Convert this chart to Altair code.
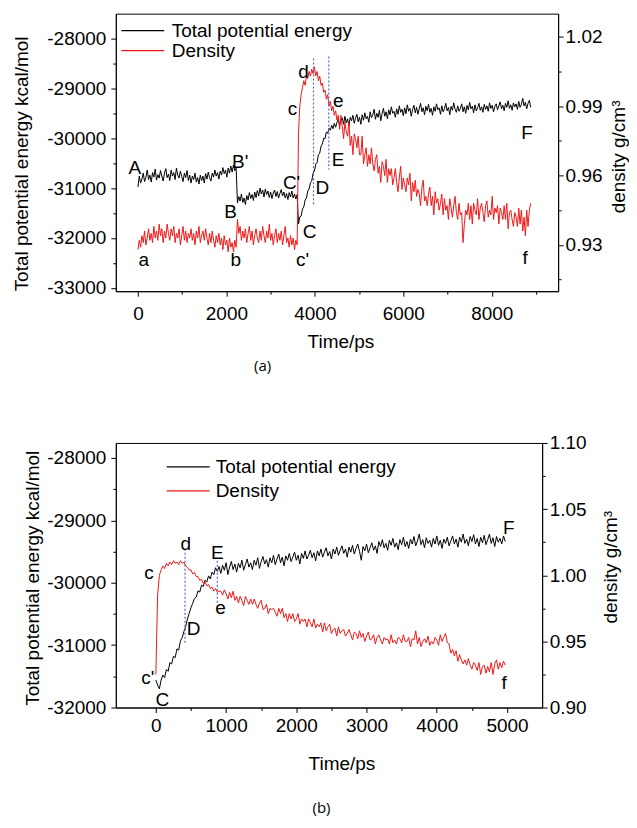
import altair as alt
import pandas as pd

FONT = "Liberation Sans"
BLACK = "#000000"
RED = "#f01818"
BLUE = "#5566dd"

# ---------------- Panel (a) data (sampled every 30 ps from 0 ps) ----------------
a_step = 30
a_energy = [
    # 0 .. 2220 ps  (A -> B')
    -30980, -30760, -30900, -30820, -30700, -30870, -30790, -30640, -30830, -30740,
    -30880, -30690, -30780, -30620, -30840, -30730, -30800, -30650, -30760, -30860,
    -30700, -30610, -30790, -30720, -30850, -30640, -30760, -30690, -30830, -30600,
    -30740, -30800, -30660, -30770, -30870, -30700, -30790, -30650, -30850, -30740,
    -30900, -30760, -30830, -30700, -30880, -30790, -30920, -30740, -30850, -30760,
    -30900, -30710, -30820, -30680, -30790, -30860, -30700, -30780, -30640, -30760,
    -30690, -30820, -30660, -30740, -30590, -30710, -30640, -30780, -30600, -30700,
    -30560, -30680, -30540, -30650, -30600,
    # 2250 .. 3600 ps  (B -> C')
    -31300, -31170, -31260, -31120, -31290, -31200, -31330, -31150, -31240, -31090,
    -31210, -31130, -31250, -31080, -31190, -31050, -31160, -31000, -31120, -31040,
    -31180, -31020, -31130, -31060, -31190, -31080, -31210, -31100, -31040, -31170,
    -31070, -31200, -31110, -31030, -31160, -31080, -31200, -31110, -31230, -31090,
    -31180, -31060, -31200, -31120, -31220, -31130,
    # 3630 .. 4500 ps  (C -> D -> E)
    -31720, -31580, -31560, -31420, -31380, -31240, -31200, -31060, -31020, -30890,
    -30860, -30700, -30660, -30520, -30490, -30330, -30300, -30160, -30120, -30000,
    -30010, -29880, -29900, -29800, -29840, -29740, -29810, -29700, -29780, -29680,
    # 4530 .. 8880 ps  (E -> F)
    -29620, -29740, -29650, -29590, -29720, -29560, -29690, -29610, -29760, -29580,
    -29650, -29540, -29700, -29600, -29520, -29670, -29580, -29720, -29530, -29640,
    -29490, -29610, -29560, -29680, -29470, -29590, -29530, -29420, -29620, -29500,
    -29580, -29440, -29650, -29510, -29400, -29560, -29470, -29610, -29430, -29530,
    -29370, -29500, -29460, -29580, -29410, -29520, -29350, -29480, -29420, -29550,
    -29390, -29510, -29330, -29460, -29400, -29560, -29420, -29340, -29490, -29380,
    -29520, -29410, -29300, -29470, -29390, -29530, -29360, -29450, -29320, -29480,
    -29400, -29540, -29370, -29460, -29310, -29430, -29390, -29520, -29350, -29470,
    -29410, -29300, -29450, -29380, -29530, -29360, -29440, -29290, -29420, -29480,
    -29350, -29460, -29400, -29310, -29470, -29370, -29500, -29340, -29430, -29280,
    -29410, -29360, -29490, -29330, -29450, -29390, -29300, -29440, -29370, -29480,
    -29320, -29420, -29350, -29460, -29290, -29400, -29340, -29470, -29360, -29310,
    -29430, -29350, -29270, -29410, -29340, -29450, -29300, -29380, -29250, -29400,
    -29330, -29440, -29290, -29370, -29310, -29420, -29260, -29380, -29320, -29200,
    -29350, -29280, -29410, -29300, -29240, -29380,
]
a_density = [
    # 0 .. 2220 ps  (a -> b)
    0.928, 0.932, 0.929, 0.934, 0.931, 0.936, 0.930, 0.933, 0.937, 0.932,
    0.935, 0.931, 0.938, 0.933, 0.936, 0.932, 0.939, 0.934, 0.937, 0.931,
    0.936, 0.933, 0.939, 0.935, 0.932, 0.937, 0.934, 0.938, 0.931, 0.935,
    0.933, 0.937, 0.930, 0.934, 0.938, 0.932, 0.936, 0.931, 0.935, 0.933,
    0.937, 0.932, 0.935, 0.930, 0.936, 0.933, 0.938, 0.931, 0.934, 0.936,
    0.932, 0.937, 0.933, 0.930, 0.935, 0.931, 0.936, 0.932, 0.929, 0.934,
    0.931, 0.935, 0.930, 0.933, 0.928, 0.934, 0.930, 0.932, 0.927, 0.933,
    0.929, 0.931, 0.927, 0.932, 0.929,
    # 2250 .. 3600 ps  (b -> c')
    0.941, 0.935, 0.938, 0.932, 0.936, 0.933, 0.937, 0.931, 0.935, 0.938,
    0.932, 0.936, 0.930, 0.934, 0.937, 0.933, 0.931, 0.936, 0.932, 0.938,
    0.934, 0.931, 0.936, 0.933, 0.939, 0.932, 0.935, 0.930, 0.934, 0.937,
    0.931, 0.935, 0.932, 0.936, 0.930, 0.934, 0.938, 0.931, 0.933, 0.929,
    0.934, 0.930, 0.933, 0.928, 0.932, 0.930,
    # 3630 .. 4500 ps  (c -> d -> e)
    0.978, 0.990, 0.995, 0.998, 1.001, 0.999, 1.003, 1.002, 1.005, 1.003,
    1.006, 1.004, 1.007, 1.003, 1.005, 1.001, 1.003, 0.999, 1.000, 0.996,
    0.997, 0.993, 0.995, 0.990, 0.992, 0.988, 0.990, 0.986, 0.988, 0.984,
    # 4530 .. 8880 ps  (e -> f)
    0.986, 0.980, 0.986, 0.981, 0.976, 0.983, 0.979, 0.977, 0.983, 0.973,
    0.977, 0.969, 0.978, 0.976, 0.972, 0.977, 0.969, 0.969, 0.977, 0.965,
    0.969, 0.972, 0.964, 0.969, 0.965, 0.972, 0.965, 0.962, 0.967, 0.969,
    0.961, 0.964, 0.957, 0.966, 0.964, 0.960, 0.967, 0.957, 0.963, 0.960,
    0.963, 0.956, 0.959, 0.963, 0.957, 0.953, 0.959, 0.964, 0.954, 0.959,
    0.956, 0.953, 0.959, 0.956, 0.961, 0.949, 0.957, 0.953, 0.958, 0.951,
    0.954, 0.952, 0.947, 0.955, 0.958, 0.949, 0.951, 0.947, 0.952, 0.955,
    0.947, 0.951, 0.943, 0.953, 0.948, 0.950, 0.945, 0.948, 0.952, 0.943,
    0.950, 0.945, 0.947, 0.941, 0.950, 0.946, 0.942, 0.947, 0.951, 0.944,
    0.941, 0.948, 0.943, 0.944, 0.931, 0.939, 0.945, 0.943, 0.948, 0.941,
    0.947, 0.939, 0.948, 0.945, 0.943, 0.950, 0.941, 0.946, 0.948, 0.944,
    0.940, 0.947, 0.949, 0.942, 0.945, 0.943, 0.951, 0.941, 0.946, 0.944,
    0.947, 0.939, 0.946, 0.944, 0.941, 0.947, 0.941, 0.948, 0.937, 0.944,
    0.945, 0.941, 0.938, 0.944, 0.942, 0.938, 0.946, 0.939, 0.945, 0.936,
    0.942, 0.934, 0.945, 0.938, 0.945, 0.948,
]
a_label_text = ["A", "B'", "B", "C'", "C", "D", "E", "F", "a", "b", "c'", "c", "d", "e", "f"]
a_label_t = [-71, 2311, 2096, 3473, 3880, 4172, 4523, 8800, 132, 2209, 3720, 3496, 3743, 4532, 8754]
a_label_e = [-30726, -30606, -31608, -31027, -32009, -31127, -30566, -30024,
             -32570, -32570, -32570, -29526, -28782, -29364, -32530]
a_mark_t = [3970, 4315]
a_mark_top = [-28401, -28361]
a_mark_bottom = [-31327, -30626]

# ---------------- Panel (b) data (sampled every 25 ps from 0 ps) ----------------
b_step = 25
b_energy = [
    # 0 .. 900 ps  (C -> D -> E)
    -31560, -31640, -31700, -31560, -31480, -31520, -31390, -31420, -31280, -31300,
    -31180, -31200, -31060, -31080, -30930, -30880, -30780, -30700, -30580, -30490,
    -30400, -30330, -30250, -30230, -30130, -30150, -30040, -30060, -29960, -29990,
    -29890, -29940, -29830, -29870, -29760, -29820, -29740,
    # 925 .. 4975 ps  (E -> F)
    -29850, -29720, -29800, -29680, -29870, -29750, -29660, -29790, -29700, -29830,
    -29690, -29760, -29640, -29800, -29710, -29620, -29750, -29680, -29790, -29640,
    -29720, -29600, -29770, -29660, -29580, -29700, -29630, -29750, -29600, -29680,
    -29560, -29710, -29620, -29540, -29680, -29590, -29730, -29570, -29640, -29530,
    -29660, -29590, -29510, -29640, -29560, -29700, -29530, -29610, -29490, -29620,
    -29560, -29480, -29600, -29520, -29650, -29490, -29570, -29460, -29590, -29510,
    -29440, -29570, -29500, -29620, -29460, -29540, -29430, -29560, -29480, -29410,
    -29530, -29460, -29590, -29430, -29510, -29400, -29540, -29450, -29380, -29500,
    -29640, -29420, -29490, -29380, -29520, -29440, -29360, -29480, -29410, -29530,
    -29340, -29420, -29310, -29440, -29370, -29480, -29320, -29400, -29290, -29430,
    -29360, -29470, -29310, -29390, -29270, -29420, -29340, -29450, -29300, -29380,
    -29260, -29410, -29330, -29220, -29390, -29310, -29440, -29280, -29370, -29320,
    -29430, -29290, -29380, -29250, -29400, -29320, -29450, -29300, -29370, -29270,
    -29410, -29330, -29250, -29380, -29300, -29430, -29270, -29350, -29220, -29370,
    -29300, -29410, -29260, -29340, -29230, -29380, -29290, -29420, -29270, -29360,
    -29240, -29390, -29310, -29220, -29370, -29280, -29420, -29260, -29350, -29290,
    -29380, -29250, -29340,
]
b_density = [
    # 0 .. 900 ps  (c' -> c -> d -> e)
    0.925, 0.985, 1.000, 1.004, 1.007, 1.005, 1.009, 1.007, 1.010, 1.008,
    1.011, 1.009, 1.010, 1.008, 1.011, 1.009, 1.010, 1.007, 1.006, 1.004,
    1.004, 1.001, 1.002, 0.999, 0.999, 0.996, 0.997, 0.994, 0.995, 0.992,
    0.993, 0.990, 0.991, 0.988, 0.990, 0.987, 0.988,
    # 925 .. 4975 ps  (e -> f)
    0.988, 0.985, 0.989, 0.986, 0.982, 0.987, 0.983, 0.988, 0.981, 0.984,
    0.979, 0.984, 0.981, 0.977, 0.984, 0.981, 0.978, 0.982, 0.978, 0.982,
    0.978, 0.975, 0.979, 0.981, 0.974, 0.975, 0.978, 0.971, 0.975, 0.974,
    0.975, 0.972, 0.969, 0.975, 0.971, 0.975, 0.968, 0.971, 0.965, 0.971,
    0.967, 0.971, 0.965, 0.967, 0.971, 0.963, 0.967, 0.965, 0.967, 0.961,
    0.967, 0.964, 0.961, 0.967, 0.960, 0.963, 0.961, 0.964, 0.957, 0.964,
    0.958, 0.961, 0.963, 0.956, 0.959, 0.960, 0.954, 0.961, 0.956, 0.958,
    0.959, 0.954, 0.956, 0.959, 0.955, 0.951, 0.957, 0.956, 0.952, 0.958,
    0.953, 0.956, 0.950, 0.954, 0.957, 0.951, 0.952, 0.955, 0.948, 0.953,
    0.955, 0.951, 0.948, 0.953, 0.951, 0.952, 0.948, 0.955, 0.949, 0.951,
    0.948, 0.953, 0.952, 0.949, 0.955, 0.950, 0.950, 0.953, 0.946, 0.952,
    0.951, 0.958, 0.948, 0.953, 0.946, 0.950, 0.952, 0.949, 0.954, 0.947,
    0.950, 0.948, 0.953, 0.951, 0.947, 0.955, 0.950, 0.953, 0.956, 0.949,
    0.948, 0.941, 0.944, 0.939, 0.943, 0.935, 0.940, 0.936, 0.933, 0.936,
    0.932, 0.937, 0.932, 0.929, 0.934, 0.932, 0.928, 0.934, 0.925, 0.931,
    0.932, 0.926, 0.931, 0.927, 0.934, 0.925, 0.933, 0.936, 0.929, 0.934,
    0.930, 0.935, 0.932,
]
b_label_text = ["c", "d", "E", "e", "D", "c'", "C", "F", "f"]
b_label_t = [-97, 425, 875, 922, 539, -115, 94, 5026, 4960]
b_label_e = [-29936, -29472, -29616, -30496, -30832, -31616, -31968, -29216, -31696]
b_mark_t = [415, 875]
b_mark_top = [-29456, -29648]
b_mark_bottom = [-30960, -30336]

SERIES = ["Total potential energy", "Density"]
SERIES_COLORS = [BLACK, RED]
X_TITLE = "Time/ps"
E_TITLE = "Total potential energy kcal/mol"
D_TITLE = "density g/cm\u00b3"


def panel(step, energy, density, lab_text, lab_t, lab_e, mk_t, mk_top, mk_bot,
          width, height, xdom, xticks, xlabel_step, edom, eticks, elabel_step,
          ddom, dticks, dlabel_mod, xlabpad, xtitle_x, xtitle_y,
          etitle_x, etitle_y, elabpad, dtitle_x, dtitle_y, dlabpad,
          leg_x, leg_y, leg_row, leg_off, caption, cap_x, cap_y, anchor=False):
    dfe = pd.DataFrame({"t": [i * step for i in range(len(energy))], "value": energy, "series": SERIES[0]})
    dfd = pd.DataFrame({"t": [i * step for i in range(len(density))], "value": density, "series": SERIES[1]})
    labels = pd.DataFrame({"t": lab_t, "E": lab_e, "txt": lab_text})
    marks = pd.DataFrame({"t": mk_t, "e1": mk_top, "e2": mk_bot})

    x = alt.X(
        "t:Q",
        title=X_TITLE,
        scale=alt.Scale(domain=xdom, nice=False, zero=False),
        axis=alt.Axis(
            values=xticks,
            labelExpr=f"datum.value % {xlabel_step} === 0 ? '' + datum.value : ''",
            tickSize={"condition": {"test": f"datum.value % {xlabel_step} === 0", "value": 5}, "value": 3},
            labelPadding=xlabpad, labelFlush=False, labelOverlap=False,
            titleX=xtitle_x, titleY=xtitle_y, titleBaseline="middle",
        ),
    )
    escale = alt.Scale(domain=edom, nice=False, zero=False)
    dscale = alt.Scale(domain=ddom, nice=False, zero=False)
    cscale = alt.Scale(domain=SERIES, range=SERIES_COLORS)
    legend = alt.Legend(
        orient="none", legendX=leg_x, legendY=leg_y, direction="vertical", title=None,
        symbolType="M-4.3,0H4.3", symbolSize=100, symbolStrokeWidth=1.3,
        labelFont=FONT, labelFontSize=19, labelColor=BLACK, labelOffset=leg_off,
        labelLimit=400, rowPadding=leg_row, padding=0,
    )
    color = alt.Color("series:N", scale=cscale, legend=legend)

    energy_line = alt.Chart(dfe).mark_line(strokeWidth=1).encode(
        x=x,
        y=alt.Y("value:Q", title=E_TITLE, scale=escale, axis=alt.Axis(
            values=eticks,
            labelExpr=f"datum.value % {elabel_step} === 0 ? '' + datum.value : ''",
            tickSize={"condition": {"test": f"datum.value % {elabel_step} === 0", "value": 5}, "value": 3},
            labelPadding=elabpad, labelFlush=False, labelOverlap=False,
            titleX=etitle_x, titleY=etitle_y, titleBaseline="middle",
        )),
        color=color,
    )
    density_line = alt.Chart(dfd).mark_line(strokeWidth=1).encode(
        x=x,
        y=alt.Y("value:Q", title=D_TITLE, scale=dscale, axis=alt.Axis(
            orient="right", values=dticks,
            labelExpr=f"round(datum.value * 1000) % {dlabel_mod} === 0 ? format(datum.value, '.2f') : ''",
            tickSize={"condition": {"test": f"round(datum.value * 1000) % {dlabel_mod} === 0", "value": 5}, "value": 3},
            labelPadding=dlabpad, labelFlush=False, labelOverlap=False,
            titleAngle=270, titleX=dtitle_x, titleY=dtitle_y, titleBaseline="middle",
        )),
        color=color,
    )
    guide_lines = alt.Chart(marks).mark_rule(color=BLUE, strokeWidth=1.2, strokeDash=[2, 2]).encode(
        x=x,
        y=alt.Y("e1:Q", scale=escale, axis=None),
        y2="e2:Q",
    )
    point_labels = alt.Chart(labels).mark_text(
        font=FONT, fontSize=19, color=BLACK, align="center", baseline="alphabetic"
    ).encode(
        x=x,
        y=alt.Y("E:Q", scale=escale, axis=None),
        text="txt:N",
    )
    cap = alt.Chart(pd.DataFrame({"cap": [caption]})).mark_text(
        font="Open Sans", fontSize=15, color=BLACK, align="center", baseline="middle"
    ).encode(text="cap:N", x=alt.value(cap_x), y=alt.value(cap_y))

    layers = [energy_line, density_line, guide_lines, point_labels, cap]
    if anchor:
        layers.append(
            alt.Chart(pd.DataFrame({"k": [0]})).mark_rule(strokeOpacity=0, strokeWidth=0.5).encode(
                x=alt.value(-107), x2=alt.value(-107), y=alt.value(-4), y2=alt.value(0)
            )
        )
    return alt.layer(*layers).resolve_scale(y="independent").properties(width=width, height=height)


panel_a = panel(
    a_step, a_energy, a_density, a_label_text, a_label_t, a_label_e,
    a_mark_t, a_mark_top, a_mark_bottom,
    width=443, height=278,
    xdom=[-500, 9500], xticks=[0, 1000, 2000, 3000, 4000, 5000, 6000, 7000, 8000, 9000], xlabel_step=2000,
    edom=[-33070, -27500],
    eticks=[-33000, -32500, -32000, -31500, -31000, -30500, -30000, -29500, -29000, -28500, -28000],
    elabel_step=1000,
    ddom=[0.91, 1.03], dticks=[0.915, 0.93, 0.945, 0.96, 0.975, 0.99, 1.005, 1.02], dlabel_mod=30,
    xlabpad=8, xtitle_x=225, xtitle_y=50,
    etitle_x=-94, etitle_y=150, elabpad=5, dtitle_x=60, dtitle_y=143, dlabpad=2,
    leg_x=17.5, leg_y=7.5, leg_row=0, leg_off=19.5,
    caption="(a)", cap_x=147, cap_y=353, anchor=True,
)

panel_b = panel(
    b_step, b_energy, b_density, b_label_text, b_label_t, b_label_e,
    b_mark_t, b_mark_top, b_mark_bottom,
    width=427, height=265,
    xdom=[-570, 5500], xticks=[0, 500, 1000, 1500, 2000, 2500, 3000, 3500, 4000, 4500, 5000], xlabel_step=1000,
    edom=[-32000, -27760],
    eticks=[-32000, -31500, -31000, -30500, -30000, -29500, -29000, -28500, -28000],
    elabel_step=1000,
    ddom=[0.9, 1.1], dticks=[0.9, 0.925, 0.95, 0.975, 1.0, 1.025, 1.05, 1.075, 1.1], dlabel_mod=50,
    xlabpad=4, xtitle_x=226, xtitle_y=56,
    etitle_x=-83, etitle_y=135, elabpad=5, dtitle_x=68, dtitle_y=124, dlabpad=2,
    leg_x=63, leg_y=14.5, leg_row=4, leg_off=18,
    caption="(b)", cap_x=206, cap_y=366,
)

chart = (
    alt.vconcat(panel_a, panel_b, spacing=152, bounds="flush")
    .resolve_scale(color="independent")
    .properties(padding={"left": 0, "top": 0, "right": 0, "bottom": 0})
    .configure_view(stroke=BLACK, strokeWidth=1)
    .configure_axis(
        grid=False,
        domainColor=BLACK, domainWidth=1,
        tickColor=BLACK, tickWidth=1,
        labelFont=FONT, labelFontSize=19, labelColor=BLACK,
        titleFont=FONT, titleFontSize=19, titleFontWeight="normal", titleColor=BLACK,
    )
)

chart.save("out.html", embed_options={"renderer": "svg", "actions": False})
